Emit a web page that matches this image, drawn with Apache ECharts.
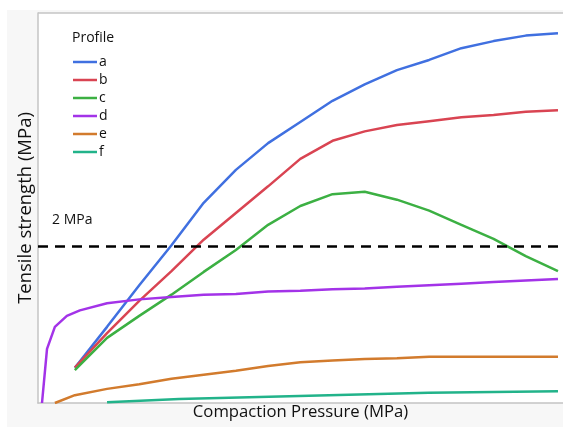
<!DOCTYPE html>
<html>
<head>
<meta charset="utf-8">
<script src="https://cdn.jsdelivr.net/npm/echarts@6/dist/echarts.min.js"></script>
<style>html,body{margin:0;padding:0;background:#fff}#c{width:563px;height:427px}</style>
</head>
<body>
<div id="c"></div>
<script>
// Compaction pressure points shared by most profiles
var pressure = [50, 75, 100, 125, 150, 175, 200, 225, 250, 275, 300, 325, 350, 375, 400, 425];
var profileA = [0.45, 0.97, 1.50, 2.01, 2.55, 2.97, 3.31, 3.58, 3.85, 4.06, 4.24, 4.37, 4.52, 4.61, 4.68, 4.71];
var profileB = [0.45, 0.89, 1.30, 1.68, 2.08, 2.42, 2.76, 3.11, 3.34, 3.46, 3.54, 3.59, 3.64, 3.67, 3.71, 3.73];
var profileC = [0.42, 0.83, 1.11, 1.38, 1.67, 1.95, 2.27, 2.51, 2.66, 2.69, 2.59, 2.45, 2.27, 2.09, 1.87, 1.68];
var pressureD = [24.5, 28.4, 34.5, 43.8, 53.9, 75, 100, 125, 150, 175, 200, 225, 250, 275, 300, 325, 350, 375, 400, 425];
var profileD = [0, 0.69, 0.97, 1.11, 1.18, 1.27, 1.32, 1.35, 1.38, 1.39, 1.42, 1.43, 1.45, 1.46, 1.48, 1.50, 1.52, 1.54, 1.56, 1.58];
var pressureE = [34.5, 50, 75, 100, 125, 150, 175, 200, 225, 250, 275, 300, 325, 350, 375, 400, 425];
var profileE = [0, 0.10, 0.18, 0.24, 0.31, 0.36, 0.41, 0.47, 0.52, 0.54, 0.56, 0.57, 0.59, 0.59, 0.59, 0.59, 0.59];
var pressureF = [75, 131, 224, 324.5, 425];
var profileF = [0.01, 0.05, 0.09, 0.13, 0.15];
var threshold = 2;
var thresholdLabel = '2 MPa';
var profileNames = ['a', 'b', 'c', 'd', 'e', 'f'];
var profileColors = ['#4070e0', '#d94452', '#3cb043', '#a333e8', '#d27b2d', '#22b38a'];

function pairs(xs, ys) { return xs.map(function (x, i) { return [x, ys[i]]; }); }
var seriesData = [
  pairs(pressure, profileA), pairs(pressure, profileB), pairs(pressure, profileC),
  pairs(pressureD, profileD), pairs(pressureE, profileE), pairs(pressureF, profileF)
];

var FONT = 'Open Sans';
var TXT = '#111';
var series = profileNames.map(function (n, i) {
  return {
    name: n, type: 'line', data: seriesData[i], showSymbol: false, symbol: 'none',
    lineStyle: { width: 2.5, color: profileColors[i] }, itemStyle: { color: profileColors[i] },
    z: 3
  };
});
series.push({
  name: 'threshold', type: 'line', data: [], silent: true,
  markLine: {
    silent: true, symbol: 'none',
    lineStyle: { color: '#000', type: [10, 7], width: 2.5 },
    label: { show: false },
    data: [{ yAxis: threshold }]
  }
});

var chart = echarts.init(document.getElementById('c'), null, { renderer: 'canvas' });
chart.setOption({
  animation: false,
  backgroundColor: '#f7f7f7',
  graphic: [
    { type: 'rect', shape: { x: 0, y: 0, width: 563, height: 10 }, style: { fill: '#fff' }, silent: true },
    { type: 'rect', shape: { x: 0, y: 0, width: 7, height: 427 }, style: { fill: '#fff' }, silent: true },
    { type: 'text', left: 52, top: 213, style: { text: thresholdLabel, font: '14px "' + FONT + '"', fill: TXT } },
    { type: 'line', shape: { x1: 38, y1: 13, x2: 563, y2: 13 }, style: { stroke: '#c4c4c4', lineWidth: 1.5 }, silent: true }
  ],
  title: {
    text: 'Profile', left: 67, top: 26,
    textStyle: { fontFamily: FONT, fontSize: 14, fontWeight: 'normal', color: TXT }
  },
  legend: {
    data: profileNames, orient: 'vertical', left: 68, top: 50,
    icon: 'rect', itemWidth: 24, itemHeight: 2.5, itemGap: 4,
    textStyle: { fontFamily: FONT, fontSize: 14, color: TXT, padding: [0, 0, 0, -3] },
    selectedMode: false
  },
  grid: { left: 38, top: 13, right: -2, bottom: 24, show: true, backgroundColor: '#fff', borderWidth: 0, containLabel: false },
  xAxis: {
    type: 'value', min: 21.4, max: 428.9,
    name: 'Compaction Pressure (MPa)', nameLocation: 'middle', nameGap: 1,
    nameTextStyle: { fontFamily: FONT, fontSize: 16.7, color: TXT },
    axisLine: { show: true, lineStyle: { color: '#c4c4c4', width: 1.5 } },
    axisTick: { show: false }, axisLabel: { show: false }, splitLine: { show: false }
  },
  yAxis: {
    type: 'value', min: 0, max: 4.968,
    name: 'Tensile strength (MPa)', nameLocation: 'middle', nameGap: 3,
    nameTextStyle: { fontFamily: FONT, fontSize: 18.5, color: TXT },
    axisLine: { show: true, lineStyle: { color: '#c4c4c4', width: 1.5 } },
    axisTick: { show: false }, axisLabel: { show: false }, splitLine: { show: false }
  },
  series: series
});
</script>
</body>
</html>
